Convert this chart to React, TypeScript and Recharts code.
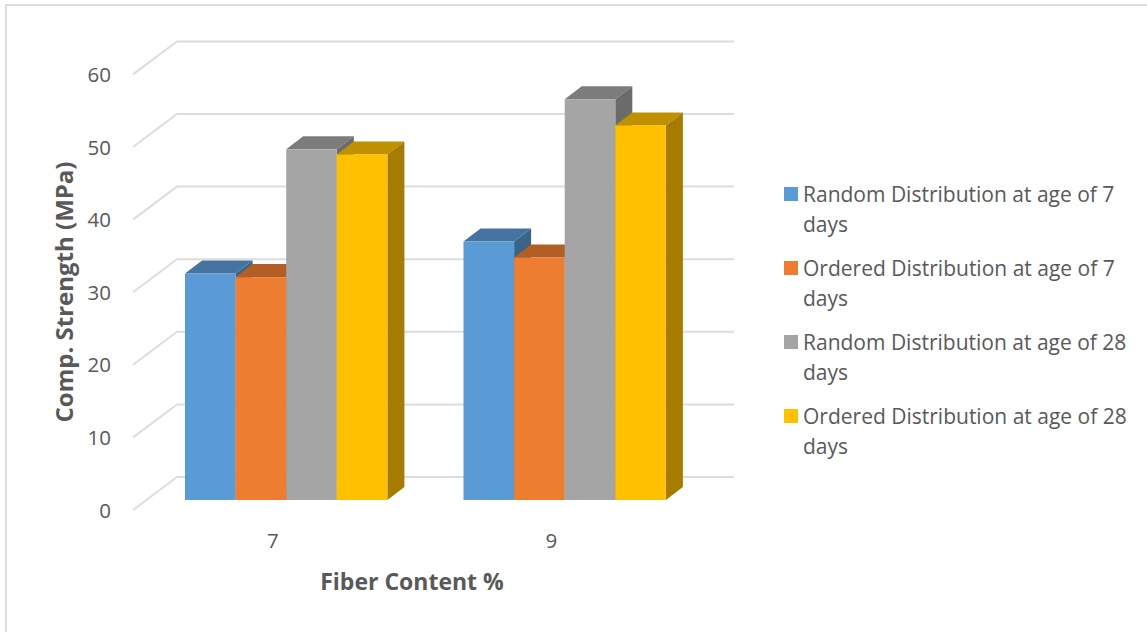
import React from "react";
import { BarChart, Bar, XAxis, YAxis, CartesianGrid, Legend } from "recharts";

const fiberContents = ["7", "9"];
const randomAge7 = [31.2, 35.6];
const orderedAge7 = [30.7, 33.4];
const randomAge28 = [48.3, 55.2];
const orderedAge28 = [47.6, 51.6];

const yTicks = [0, 10, 20, 30, 40, 50, 60];

const seriesNames = [
  "Random Distribution at age of 7 days",
  "Ordered Distribution at age of 7 days",
  "Random Distribution at age of 28 days",
  "Ordered Distribution at age of 28 days",
];
const seriesKeys = ["randomAge7", "orderedAge7", "randomAge28", "orderedAge28"];
const frontColors = ["#5B9BD5", "#ED7D31", "#A5A5A5", "#FFC000"];
const topColors = ["#44749F", "#B25E25", "#7C7C7C", "#BF9000"];
const sideColors = ["#3B6588", "#9A5120", "#6B6B6B", "#A67C00"];

const rows = fiberContents.map((fiber, i) => ({
  fiber,
  randomAge7: randomAge7[i],
  orderedAge7: orderedAge7[i],
  randomAge28: randomAge28[i],
  orderedAge28: orderedAge28[i],
}));

const FONT = "'Open Sans', sans-serif";
const TEXT = "#595959";
const GRID = "#DDDDDD";

// Depth of a bar as drawn in the oblique projection.
const DEPTH_X = 17;
const DEPTH_Y = 13;

function Box3D(props: any) {
  const { x, y, width, height, fill, topFill, sideFill } = props;
  const r = x + width;
  const b = y + height;
  return (
    <g>
      <polygon
        points={`${x},${y} ${r},${y} ${r + DEPTH_X},${y - DEPTH_Y} ${x + DEPTH_X},${y - DEPTH_Y}`}
        fill={topFill}
      />
      <polygon
        points={`${r},${y} ${r + DEPTH_X},${y - DEPTH_Y} ${r + DEPTH_X},${b - DEPTH_Y} ${r},${b}`}
        fill={sideFill}
      />
      <rect x={x} y={y} width={width} height={height} fill={fill} />
    </g>
  );
}

// Back-wall gridline with its diagonal run down the left wall.
function WallLine(props: any) {
  const { x1, x2, y1 } = props;
  const points = `${x1 - 14},${y1 + 10} ${x1 + 30},${y1 - 23} ${x2 + 30},${y1 - 23}`;
  return <polyline points={points} fill="none" stroke={GRID} strokeWidth={2} />;
}

function YTick(props: any) {
  const { x, y, payload } = props;
  return (
    <text x={x - 28} y={y + 17.5} textAnchor="end" fontFamily={FONT} fontSize={20.5} fill={TEXT}>
      {payload.value}
    </text>
  );
}

function XTick(props: any) {
  const { x, y, payload } = props;
  return (
    <text x={x - 13.5} textAnchor="middle" y={y + 40} fontFamily={FONT} fontSize={20.5} fill={TEXT}>
      {payload.value}
    </text>
  );
}

function LegendBlock(props: any) {
  const { payload = [] } = props;
  return (
    <div style={{ fontFamily: FONT, fontSize: 21, lineHeight: "30px", color: TEXT }}>
      {payload.map((entry: any) => (
        <div key={entry.value} style={{ position: "relative", paddingLeft: 19, marginBottom: 14 }}>
          <span
            style={{
              position: "absolute",
              left: 0,
              top: 8,
              width: 14,
              height: 14,
              background: entry.color,
            }}
          />
          {entry.value}
        </div>
      ))}
    </div>
  );
}

export default function App() {
  return (
    <div
      style={{
        position: "absolute",
        left: 0,
        top: 0,
        width: 1147,
        height: 632,
        overflow: "hidden",
        background: "#fff",
      }}
    >
      <div
        style={{
          position: "absolute",
          left: 5,
          top: 4,
          width: 1160,
          height: 650,
          border: `2px solid ${GRID}`,
          boxSizing: "border-box",
        }}
      />
      <BarChart
        width={1147}
        height={632}
        data={rows}
        barSize={50.6}
        barGap={0}
        margin={{ left: 87, right: 443, top: 64.4, bottom: 72 }}
        style={{ position: "absolute", left: 0, top: 0 }}
      >
        <CartesianGrid vertical={false} horizontal={(p: any) => <WallLine key={p.key ?? p.y1} {...p} />} />
        <XAxis
          dataKey="fiber"
          axisLine={false}
          tickLine={false}
          height={60}
          tick={<XTick />}
          label={() => (
            <text x={412} y={590} textAnchor="middle" fontFamily={FONT} fontSize={23} fontWeight={700} fill={TEXT}>
              Fiber Content %
            </text>
          )}
        />
        <YAxis
          width={60}
          domain={[0, 60]}
          ticks={yTicks}
          axisLine={false}
          tickLine={false}
          tick={<YTick />}
          label={() => (
            <text
              transform="translate(73 292) rotate(-90)"
              textAnchor="middle"
              fontFamily={FONT}
              fontSize={24}
              fontWeight={700}
              fill={TEXT}
            >
              Comp. Strength (MPa)
            </text>
          )}
        />
        <Legend
          layout="vertical"
          align="center"
          verticalAlign="middle"
          itemSorter={null}
          wrapperStyle={{ left: 784, top: 179, width: 350 }}
          content={<LegendBlock />}
        />
        {seriesKeys.map((key, i) => (
          <Bar
            key={key}
            dataKey={key}
            name={seriesNames[i]}
            fill={frontColors[i]}
            isAnimationActive={false}
            shape={<Box3D topFill={topColors[i]} sideFill={sideColors[i]} />}
          />
        ))}
      </BarChart>
    </div>
  );
}
